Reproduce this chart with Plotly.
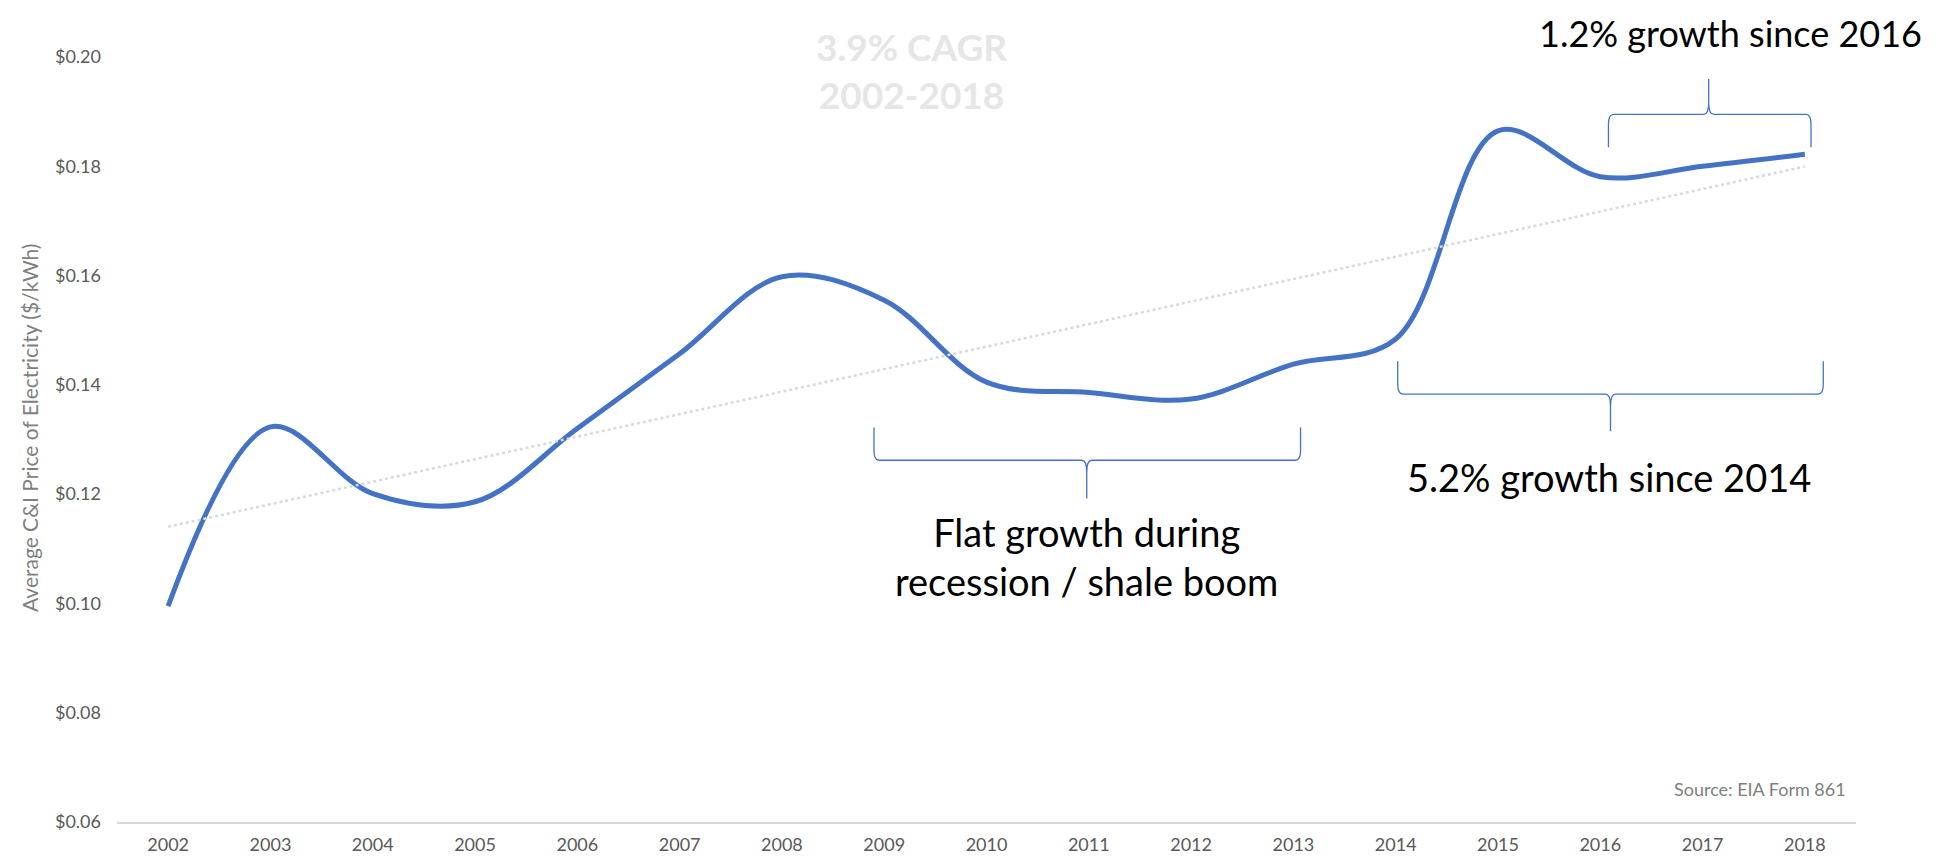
import numpy as np
import plotly.graph_objects as go

# ---------------- data ----------------
years = list(range(2002, 2019))
year_labels = [str(y) for y in years]
price = [0.0995, 0.1323, 0.1201, 0.1186, 0.1320, 0.1457, 0.1598, 0.1555,
         0.1405, 0.1386, 0.1374, 0.1438, 0.1484, 0.1865, 0.1781, 0.1800, 0.1822]
y_ticks = [0.06, 0.08, 0.10, 0.12, 0.14, 0.16, 0.18, 0.20]
y_tick_labels = ["$0.06", "$0.08", "$0.10", "$0.12", "$0.14", "$0.16", "$0.18", "$0.20"]

# linear trendline (least squares, like Excel's)
slope, intercept = np.polyfit(years, price, 1)
trend = [slope * y + intercept for y in years]

FONT = "Lato"
BLUE = "#4472C4"

fig = go.Figure()
fig.add_trace(go.Scatter(
    x=years, y=price, mode="lines",
    line=dict(color=BLUE, width=5, shape="spline", smoothing=1.0),
    hoverinfo="skip", showlegend=False))
fig.add_trace(go.Scatter(
    x=years, y=trend, mode="lines",
    line=dict(color="#d9d9d9", width=2.5, dash="dot"),
    hoverinfo="skip", showlegend=False))


def brace(x0, x1, xm, y_end, y_h, y_tip, dx=0.05, dy_end=0.0018, dy_tip=0.0022):
    s = 1 if y_end > y_h else -1
    ye = y_h + s * dy_end
    yt = y_h - s * dy_tip
    p = (f"M{x0},{y_end} L{x0},{ye} Q{x0},{y_h} {x0+dx},{y_h} "
         f"L{xm-dx},{y_h} Q{xm},{y_h} {xm},{yt} L{xm},{y_tip} "
         f"M{xm},{yt} Q{xm},{y_h} {xm+dx},{y_h} "
         f"L{x1-dx},{y_h} Q{x1},{y_h} {x1},{ye} L{x1},{y_end}")
    return dict(type="path", path=p, xref="x", yref="y",
                line=dict(color=BLUE, width=1.3), layer="above")


shapes = [
    brace(2008.90, 2013.07, 2010.98, 0.1322, 0.1262, 0.1192),
    brace(2014.02, 2018.18, 2016.10, 0.1443, 0.1383, 0.1315),
    brace(2016.08, 2018.06, 2017.06, 0.1835, 0.1895, 0.1960),
]

annotations = [
    dict(text="<b>3.9% CAGR<br>2002-2018</b>", x=2009.27, y=0.1975, xref="x", yref="y",
         showarrow=False, font=dict(family=FONT, size=37, color="#e6e6e6"),
         xanchor="center", yanchor="middle"),
    dict(text="1.2% growth since 2016", x=0.9276, y=1.0315, xref="paper", yref="paper",
         showarrow=False, font=dict(family=FONT, size=36, color="#000000"),
         xanchor="center", yanchor="middle", borderpad=0),
    dict(text="5.2% growth since 2014", x=2016.09, y=0.1232, xref="x", yref="y",
         showarrow=False, font=dict(family=FONT, size=38, color="#000000"),
         xanchor="center", yanchor="middle"),
    dict(text="Flat growth during<br>recession / shale boom", x=2010.98, y=0.1086,
         xref="x", yref="y", showarrow=False,
         font=dict(family=FONT, size=38, color="#000000"),
         xanchor="center", yanchor="middle"),
    dict(text="Source: EIA Form 861", x=0.9954, y=0.043, xref="paper", yref="paper",
         showarrow=False, font=dict(family=FONT, size=18, color="#7f7f7f"),
         xanchor="right", yanchor="middle"),
    dict(text="Average C&I Price of Electricity ($/kWh)", x=-0.0506, y=0.515,
         xref="paper", yref="paper", showarrow=False, textangle=-90,
         font=dict(family=FONT, size=21, color="#7f7f7f"),
         xanchor="center", yanchor="middle"),
]

fig.update_layout(
    width=1946, height=859,
    margin=dict(l=109, r=98, t=49, b=41, pad=0),
    paper_bgcolor="white", plot_bgcolor="white",
    showlegend=False,
    shapes=shapes, annotations=annotations,
    font=dict(family=FONT),
    xaxis=dict(range=[2001.5, 2018.5], tickmode="array", tickvals=years,
               ticktext=year_labels, showgrid=False, zeroline=False,
               showline=True, linecolor="#d9d9d9", linewidth=2,
               ticks="", ticklabelstandoff=5,
               tickfont=dict(family=FONT, size=18, color="#595959"),
               fixedrange=True),
    yaxis=dict(range=[0.05999, 0.20001], tickmode="array", tickvals=y_ticks,
               ticktext=y_tick_labels, showgrid=False, zeroline=False,
               showline=False, ticks="", ticklabelstandoff=15,
               tickfont=dict(family=FONT, size=18, color="#595959"),
               fixedrange=True),
)

fig.write_html("out.html")
